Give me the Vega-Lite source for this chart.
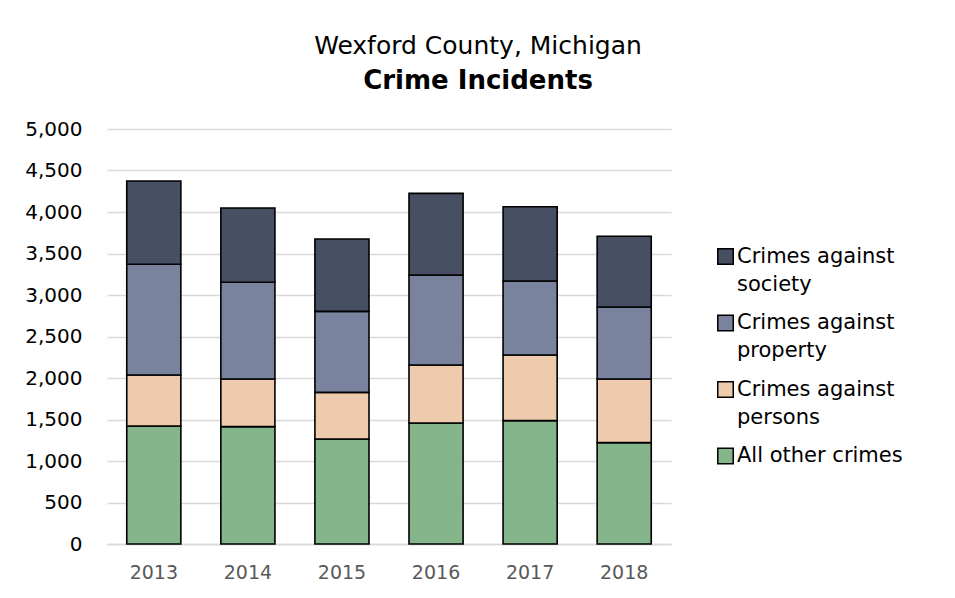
{
  "$schema": "https://vega.github.io/schema/vega-lite/v6.json",
  "width": 564,
  "height": 415,
  "autosize": {"type": "pad"},
  "padding": {"left": 24, "top": 34, "right": 10, "bottom": 10},
  "background": "white",
  "title": {
    "text": "Wexford County, Michigan",
    "subtitle": "Crime Incidents",
    "anchor": "middle",
    "frame": "group",
    "dx": 89,
    "font": "DejaVu Sans",
    "fontSize": 25,
    "fontWeight": "normal",
    "color": "#000000",
    "subtitleFont": "DejaVu Sans",
    "subtitleFontSize": 26,
    "subtitleFontWeight": "bold",
    "subtitleColor": "#000000",
    "subtitlePadding": 9,
    "offset": 25
  },
  "data": {
    "values": [
      {"year": "2013", "category": "All other crimes", "order": 1, "count": 1422},
      {"year": "2013", "category": "Crimes against persons", "order": 2, "count": 614},
      {"year": "2013", "category": "Crimes against property", "order": 3, "count": 1334},
      {"year": "2013", "category": "Crimes against society", "order": 4, "count": 1003},
      {"year": "2014", "category": "All other crimes", "order": 1, "count": 1414},
      {"year": "2014", "category": "Crimes against persons", "order": 2, "count": 574},
      {"year": "2014", "category": "Crimes against property", "order": 3, "count": 1165},
      {"year": "2014", "category": "Crimes against society", "order": 4, "count": 895},
      {"year": "2015", "category": "All other crimes", "order": 1, "count": 1265},
      {"year": "2015", "category": "Crimes against persons", "order": 2, "count": 562},
      {"year": "2015", "category": "Crimes against property", "order": 3, "count": 976},
      {"year": "2015", "category": "Crimes against society", "order": 4, "count": 872},
      {"year": "2016", "category": "All other crimes", "order": 1, "count": 1458},
      {"year": "2016", "category": "Crimes against persons", "order": 2, "count": 699},
      {"year": "2016", "category": "Crimes against property", "order": 3, "count": 1084},
      {"year": "2016", "category": "Crimes against society", "order": 4, "count": 984},
      {"year": "2017", "category": "All other crimes", "order": 1, "count": 1486},
      {"year": "2017", "category": "Crimes against persons", "order": 2, "count": 791},
      {"year": "2017", "category": "Crimes against property", "order": 3, "count": 892},
      {"year": "2017", "category": "Crimes against society", "order": 4, "count": 895},
      {"year": "2018", "category": "All other crimes", "order": 1, "count": 1221},
      {"year": "2018", "category": "Crimes against persons", "order": 2, "count": 767},
      {"year": "2018", "category": "Crimes against property", "order": 3, "count": 867},
      {"year": "2018", "category": "Crimes against society", "order": 4, "count": 852}
    ]
  },
  "mark": {"type": "bar", "stroke": "#000000", "strokeWidth": 1.6},
  "encoding": {
    "x": {
      "field": "year",
      "type": "ordinal",
      "scale": {"paddingInner": 0.425, "paddingOuter": 0.21},
      "axis": {
        "title": null,
        "labelAngle": 0,
        "labelFont": "DejaVu Sans",
        "labelFontSize": 19,
        "labelColor": "#595959",
        "labelPadding": 19,
        "ticks": false,
        "domainColor": "#d9d9d9",
        "domainWidth": 1.5
      }
    },
    "y": {
      "field": "count",
      "type": "quantitative",
      "aggregate": "sum",
      "stack": "zero",
      "scale": {"domain": [0, 5000]},
      "axis": {
        "title": null,
        "values": [0, 500, 1000, 1500, 2000, 2500, 3000, 3500, 4000, 4500, 5000],
        "format": ",.0f",
        "labelFont": "DejaVu Sans",
        "labelFontSize": 20,
        "labelColor": "#000000",
        "labelPadding": 25,
        "ticks": false,
        "domain": false,
        "gridColor": "#d9d9d9",
        "gridWidth": 1.5
      }
    },
    "color": {
      "field": "category",
      "type": "nominal",
      "scale": {
        "domain": ["Crimes against society", "Crimes against property", "Crimes against persons", "All other crimes"],
        "range": ["#474F63", "#7A839E", "#EFCBAD", "#84B58B"]
      },
      "legend": {
        "title": null,
        "orient": "none",
        "legendX": 608,
        "legendY": 117,
        "padding": 0,
        "symbolType": "square",
        "symbolSize": 240,
        "symbolStrokeColor": "#000000",
        "symbolStrokeWidth": 1.5,
        "labelFont": "DejaVu Sans",
        "labelFontSize": 21,
        "labelColor": "#000000",
        "labelLimit": 300,
        "labelOffset": 1,
        "labelBaseline": "middle",
        "rowPadding": 16.5,
        "labelExpr": "datum.label == 'All other crimes' ? datum.label : [slice(datum.label, 0, 14), slice(datum.label, 15)]"
      }
    },
    "order": {"field": "order", "type": "quantitative", "sort": "ascending"}
  },
  "config": {
    "view": {"stroke": null},
    "style": {"guide-label": {"lineHeight": 28}}
  }
}
